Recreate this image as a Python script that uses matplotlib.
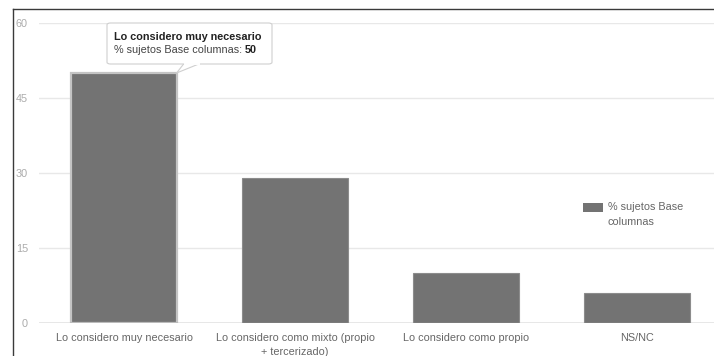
import matplotlib
matplotlib.use("Agg")
import matplotlib.pyplot as plt
from matplotlib.patches import Rectangle, FancyBboxPatch, Polygon
from matplotlib.lines import Line2D

plt.rcParams['font.family'] = ['Liberation Sans', 'DejaVu Sans']

categories = [
    "Lo considero muy necesario",
    "Lo considero como mixto (propio\n+ tercerizado)",
    "Lo considero como propio",
    "NS/NC",
]
values = [50, 29, 10, 6]
series_name = "% sujetos Base columnas"
yticks = [0, 15, 30, 45, 60]

W, H = 714, 356
fig = plt.figure(figsize=(W / 100, H / 100), dpi=100)


def fx(px):
    return px / W


def fy(py):
    return 1 - py / H


# outer frame of the dashboard panel: only left and top edges are in view
frame = fig.add_axes([fx(13.5), 0, 1 - fx(13.5) + 0.05, fy(9)], zorder=-1)
frame.set_xticks([])
frame.set_yticks([])
frame.patch.set_visible(False)
for side in ("right", "bottom"):
    frame.spines[side].set_visible(False)
for side in ("left", "top"):
    frame.spines[side].set_color("#3a3a3a")
    frame.spines[side].set_linewidth(1.0)

# plot area (extends slightly beyond the right edge, as in the cropped dashboard)
ax = fig.add_axes([fx(38.5), fy(323), 684 / W, 300 / H])
ax.set_xlim(-0.5, len(categories) - 0.5)
ax.set_ylim(0, 60)
ax.patch.set_visible(False)

bar_color = "#737373"
bars = ax.bar(range(len(categories)), values, width=0.615, color=bar_color,
              edgecolor="#8c8c8c", linewidth=0.8, zorder=3)
# highlighted (hovered) column
bars[0].set_edgecolor("#c4c4c4")
bars[0].set_linewidth(1.6)

ax.set_yticks(yticks)
ax.set_yticklabels([str(v) for v in yticks])
ax.grid(axis="y", color="#e8e8e8", linewidth=1.0, zorder=0)
ax.axhline(0, color="#9a9a9a", linewidth=1.0, zorder=4)
for s in ax.spines.values():
    s.set_visible(False)
ax.tick_params(axis="y", length=0, pad=7.6, labelsize=7.8, labelcolor="#ababab")
ax.tick_params(axis="x", length=0, pad=7.2, labelsize=7.8, labelcolor="#666666")
ax.set_xticks(range(len(categories)))
ax.set_xticklabels(categories, linespacing=1.45)

# legend
fig.add_artist(Rectangle((fx(583), fy(212)), 20 / W, 9 / H, transform=fig.transFigure,
                         facecolor=bar_color, edgecolor="none"))
fig.text(fx(608), fy(207.5), "% sujetos Base", fontsize=7.8, color="#666666", va="center", ha="left")
fig.text(fx(608), fy(222), "columnas", fontsize=7.8, color="#666666", va="center", ha="left")

# tooltip for the first column
tip = ax.transData.transform((0 + 0.615 / 2, values[0]))
tip = fig.transFigure.inverted().transform(tip)
fig.add_artist(Polygon([[fx(184), fy(63.5)], [fx(200), fy(63.5)], [tip[0], tip[1]]],
                       closed=True, transform=fig.transFigure, facecolor="white",
                       edgecolor="#cfcfcf", linewidth=0.8, zorder=9))
box = FancyBboxPatch((fx(107), fy(64)), 165 / W, 41 / H, transform=fig.transFigure,
                     boxstyle="round,pad=0,rounding_size=0.005",
                     facecolor="white", edgecolor="#cfcfcf", linewidth=0.8, zorder=10)
fig.add_artist(box)
fig.add_artist(Line2D([fx(185), fx(199)], [fy(63.5), fy(63.5)], color="white",
                      linewidth=1.4, zorder=11))
fig.text(fx(114), fy(37), categories[0], fontsize=7.8, fontweight="bold", color="#222222",
         va="center", ha="left", zorder=12)
t2 = fig.text(fx(114), fy(50), series_name + ": ", fontsize=7.8, color="#444444",
              va="center", ha="left", zorder=12)
fig.canvas.draw()
bb = t2.get_window_extent(fig.canvas.get_renderer())
fig.text(bb.x1 / W, fy(50), f"{values[0]}", fontsize=7.8, fontweight="bold", color="#222222",
         va="center", ha="left", zorder=12)

fig.savefig("out.png", dpi=100)
